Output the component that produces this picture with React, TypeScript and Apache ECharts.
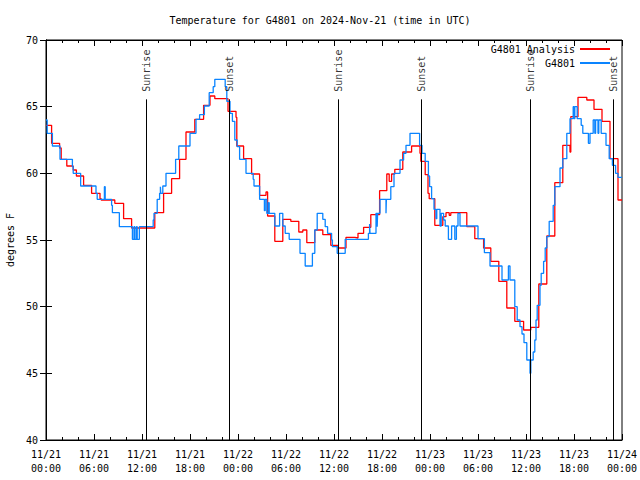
import React, { useEffect, useRef } from "react";
import * as echarts from "echarts";

// hours since 2024-11-21 00:00 UTC
const redT = [0, 0.7, 1.7, 1.9, 2.6, 3.4, 3.8, 4.7, 5.7, 6.75, 6.9, 8.6, 9.7, 10.7, 13.6, 14.7, 15.7, 16.7, 17.5, 18.6, 19.7, 20.5, 21.1, 22.75, 23.75, 23.85, 24.7, 25.7, 26.7, 27.5, 27.7, 28.6, 29.6, 30.6, 31.6, 32.1, 32.6, 33.6, 34.6, 35.6, 36.5, 37.5, 38.6, 39.0, 39.7, 40.6, 41.7, 42.6, 42.9, 43.2, 43.6, 44.6, 45.7, 46.75, 46.85, 47.4, 47.75, 47.9, 48.6, 49.6, 50.0, 50.4, 50.6, 52.6, 53.6, 54.7, 55.6, 56.6, 57.6, 58.6, 59.7, 60.6, 61.6, 62.6, 63.6, 64.6, 65.5, 65.6, 66.5, 67.6, 68.5, 69.5, 70.5, 71.5, 72];
const redV = [63.6, 62.25, 61.9, 61.05, 60.55, 60.25, 59.8, 59.1, 58.5, 58.1, 58.0, 57.75, 56.6, 55.9, 57.05, 58.5, 59.6, 61.05, 63.1, 64.05, 65.1, 65.8, 65.6, 64.65, 64.2, 62.05, 61.1, 59.95, 58.35, 58.6, 56.8, 54.9, 56.55, 56.4, 55.6, 55.75, 54.8, 55.75, 55.4, 54.6, 54.4, 55.2, 55.15, 55.5, 55.95, 56.9, 58.7, 59.95, 59.4, 59.95, 60.3, 61.6, 62.05, 61.5, 60.9, 59.9, 58.5, 58.1, 56.1, 56.75, 57.05, 56.85, 57.05, 56.0, 55.1, 54.4, 53.4, 51.9, 49.9, 48.9, 48.25, 48.45, 51.7, 55.3, 59.3, 62.1, 61.6, 64.25, 65.7, 65.5, 64.8, 63.9, 61.1, 58.0, 58.0];

const blueT = [0, 0.15, 0.8, 1.75, 3.3, 3.4, 4.33, 6.25, 6.4, 7.3, 7.4, 8.2, 8.3, 9.17, 10.8, 11.0, 11.1, 11.3, 11.4, 11.67, 13.4, 13.5, 13.9, 14.2, 14.3, 14.35, 14.6, 15.0, 16.2, 16.6, 18.0, 18.75, 19.2, 19.8, 20.4, 20.9, 21.1, 22.4, 22.6, 23.0, 23.3, 23.6, 23.9, 24.2, 25.0, 25.9, 26.0, 26.7, 27.3, 27.4, 27.6, 27.8, 27.9, 28.6, 29.2, 29.6, 29.9, 30.4, 31.75, 32.4, 33.3, 33.6, 33.9, 34.6, 34.9, 35.2, 35.7, 35.8, 36.4, 37.4, 40.3, 40.45, 40.5, 41.25, 41.4, 41.45, 41.75, 42.5, 42.55, 43.1, 43.5, 44.25, 44.7, 45.0, 45.5, 46.7, 47.0, 47.4, 47.8, 47.95, 48.2, 48.5, 48.75, 48.85, 49.25, 49.4, 49.7, 49.9, 50.3, 50.7, 51.1, 51.3, 51.5, 51.75, 54.0, 54.8, 55.5, 57.0, 57.8, 58.0, 58.6, 58.9, 59.25, 59.5, 59.75, 60.1, 60.5, 60.6, 60.9, 61.1, 61.25, 61.4, 61.75, 61.9, 62.2, 62.4, 62.6, 62.9, 63.4, 63.6, 64.25, 64.6, 65.1, 65.5, 65.9, 66.0, 66.1, 66.4, 66.9, 67.1, 67.8, 68.0, 68.4, 68.6, 68.7, 69.0, 69.1, 69.4, 70.0, 70.4, 70.8, 71.2, 71.5, 72];
const blueV = [64.0, 63.0, 62.05, 61.05, 60.5, 60.0, 59.05, 58.5, 58.05, 59.0, 58.05, 57.6, 57.05, 56.0, 55.05, 56.0, 55.05, 56.0, 55.05, 56.0, 56.5, 57.0, 58.05, 58.5, 59.0, 58.5, 59.05, 60.0, 61.05, 62.05, 63.0, 64.05, 64.4, 65.05, 66.05, 66.5, 67.05, 66.5, 65.4, 64.5, 63.9, 62.5, 62.0, 61.05, 60.0, 59.55, 59.05, 58.05, 57.2, 58.05, 57.0, 57.8, 57.0, 56.05, 57.0, 56.05, 55.5, 55.05, 54.0, 53.05, 54.0, 55.75, 57.0, 56.55, 56.0, 55.5, 55.0, 54.5, 54.0, 55.05, 55.5, 56.2, 55.5, 57.0, 56.0, 57.0, 58.05, 57.0, 58.05, 59.0, 60.0, 61.0, 61.5, 62.1, 63.0, 62.1, 61.5, 60.9, 59.8, 59.0, 58.1, 57.3, 56.6, 57.3, 56.05, 57.0, 56.5, 56.05, 55.05, 56.05, 55.05, 56.05, 57.0, 56.05, 55.1, 54.05, 53.05, 52.0, 53.05, 52.0, 50.0, 49.0, 48.5, 47.95, 47.3, 46.0, 45.0, 46.0, 46.6, 47.5, 49.0, 50.1, 51.6, 52.5, 53.4, 54.4, 55.25, 56.4, 57.6, 59.0, 60.4, 61.1, 63.0, 64.1, 65.0, 64.1, 65.0, 64.1, 63.6, 63.0, 62.25, 63.0, 64.0, 63.0, 64.0, 63.0, 64.0, 63.0, 62.1, 61.1, 60.6, 60.0, 59.7, 59.7];

const eventNames = ["Sunrise", "Sunset", "Sunrise", "Sunset", "Sunrise", "Sunset"];
const eventHours = [12.58, 22.92, 36.55, 46.88, 60.52, 70.9];
const eventLineTop = 65.55;
const eventLabelBase = 66.12;

const seriesNames = ["G4801 Analysis", "G4801"];
const titleText = "Temperature for G4801 on 2024-Nov-21 (time in UTC)";
const yName = "degrees F";

const FONT = "'DejaVu Sans Mono', 'Liberation Mono', monospace";

export default function App() {
  const ref = useRef<HTMLDivElement>(null);
  useEffect(() => {
    const chart = echarts.init(ref.current!, null, { renderer: "svg" });
    const zip = (t: number[], v: number[]) => t.map((x, i) => [x, v[i]]);
    const pad = (n: number) => (n < 10 ? "0" + n : "" + n);
    const xFmt = (h: number) => {
      const day = 21 + Math.floor(h / 24);
      const hr = Math.round(h % 24);
      return `11/${day}\n${pad(hr)}:00`;
    };
    const black = "#000";
    const xCommon = {
      type: "value",
      min: 0,
      max: 72,
      interval: 6,
      axisLine: { show: true, lineStyle: { color: black, width: 1 } },
      axisTick: { show: true, inside: true, length: 6, lineStyle: { color: black } },
      minorTick: { show: true, splitNumber: 3, length: 3, lineStyle: { color: black } },
      splitLine: { show: false },
      minorSplitLine: { show: false },
    };
    const yCommon = {
      type: "value",
      min: 40,
      max: 70,
      interval: 5,
      axisLine: { show: true, lineStyle: { color: black, width: 1 } },
      axisTick: { show: true, inside: true, length: 6, lineStyle: { color: black } },
      splitLine: { show: false },
    };
    chart.setOption({
      animation: false,
      backgroundColor: "#fff",
      textStyle: { fontFamily: FONT },
      title: {
        text: titleText,
        left: "center",
        top: 10,
        textStyle: { fontSize: 10, fontWeight: "normal", color: black, fontFamily: FONT },
      },
      legend: {
        data: seriesNames,
        orient: "vertical",
        right: 30,
        top: 42,
        align: "right",
        itemWidth: 30,
        itemHeight: 2,
        itemGap: 0,
        padding: 0,
        icon: "rect",
        textStyle: { fontSize: 10, color: black, lineHeight: 14, fontFamily: FONT },
      },
      grid: {
        left: 46,
        right: 18,
        top: 40,
        bottom: 40,
        show: true,
        borderColor: black,
        borderWidth: 1,
        backgroundColor: "transparent",
        containLabel: false,
        outerBoundsMode: "none",
      },
      xAxis: [
        {
          ...xCommon,
          position: "bottom",
          axisLabel: { formatter: xFmt, color: black, fontSize: 10, lineHeight: 14, margin: 7, fontFamily: FONT, showMinLabel: true, showMaxLabel: true, hideOverlap: false },
        },
        { ...xCommon, position: "top", axisLabel: { show: false } },
      ],
      yAxis: [
        {
          ...yCommon,
          position: "left",
          name: yName,
          nameLocation: "middle",
          nameGap: 31,
          nameTextStyle: { color: black, fontSize: 10, fontFamily: FONT },
          axisLabel: { color: black, fontSize: 10, margin: 8, fontFamily: FONT },
        },
        { ...yCommon, position: "right", axisLabel: { show: false } },
      ],
      series: [
        {
          name: seriesNames[0],
          type: "line",
          step: "end",
          data: zip(redT, redV),
          symbol: "none",
          showSymbol: false,
          lineStyle: { color: "#ff0000", width: 1.3 },
          itemStyle: { color: "#ff0000" },
          z: 2,
        },
        {
          name: seriesNames[1],
          type: "line",
          step: "end",
          data: zip(blueT, blueV),
          symbol: "none",
          showSymbol: false,
          lineStyle: { color: "#0a84ff", width: 1.3 },
          itemStyle: { color: "#0a84ff" },
          z: 3,
        },
        {
          name: "events",
          type: "scatter",
          silent: true,
          symbolSize: 0,
          data: eventHours.map((h, i) => ({ value: [h, eventLabelBase], name: eventNames[i] })),
          label: {
            show: true,
            formatter: "{b}",
            position: [0, 0],
            rotate: 90,
            align: "left",
            verticalAlign: "middle",
            color: black,
            fontSize: 10,
            fontFamily: FONT,
          },
          markLine: {
            silent: true,
            symbol: ["none", "none"],
            label: { show: false },
            lineStyle: { color: black, width: 1, type: "solid" },
            emphasis: { disabled: true },
            data: eventHours.map((h) => [{ coord: [h, 40] }, { coord: [h, eventLineTop] }]),
          },
          z: 4,
        },
      ],
    });
    return () => chart.dispose();
  }, []);
  return <div ref={ref} style={{ position: "fixed", left: 0, top: 0, width: 640, height: 480 }} />;
}
